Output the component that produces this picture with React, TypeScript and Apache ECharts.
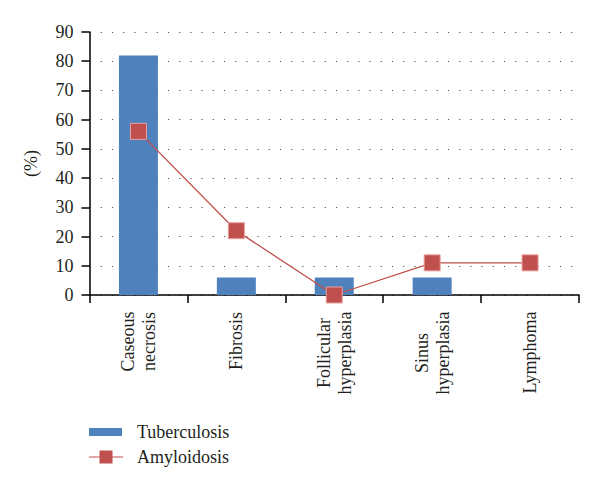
import React, { useEffect, useRef } from "react";
import * as echarts from "echarts";

const categories = [
  "Caseous\nnecrosis",
  "Fibrosis",
  "Follicular\nhyperplasia",
  "Sinus\nhyperplasia",
  "Lymphoma",
];
const tuberculosis = [82, 6, 6, 6, 0];
const amyloidosis = [56, 22, 0, 11, 11];
const yTicks = { min: 0, max: 90, interval: 10 };

const FONT = "'Liberation Serif', 'DejaVu Serif', serif";
const TEXT = "#231f20";
const FS = 18;

export default function App() {
  const ref = useRef<HTMLDivElement>(null);
  useEffect(() => {
    if (!ref.current) return;
    const cv = document.createElement("canvas");
    const ctx = cv.getContext("2d")!;
    ctx.font = `${FS}px ${FONT}`;
    const rich: Record<string, any> = {};
    categories.forEach((c, i) => {
      const w = Math.max(...c.split("\n").map((l) => ctx.measureText(l).width));
      rich["c" + i] = {
        width: Math.ceil(w) + 1,
        align: "center",
        fontFamily: FONT,
        fontSize: FS,
        lineHeight: 21,
        color: TEXT,
      };
    });
    const legendText = { fontFamily: FONT, fontSize: FS, color: TEXT };
    const chart = echarts.init(ref.current, undefined, { renderer: "svg" });
    chart.setOption({
      animation: false,
      backgroundColor: "#ffffff",
      textStyle: { fontFamily: FONT },
      grid: { left: 89.5, right: 21, top: 32, bottom: 194, containLabel: false },
      legend: {
        orient: "vertical",
        left: 89,
        top: 423,
        padding: 0,
        itemWidth: 43,
        itemHeight: 14,
        itemGap: 7,
        textStyle: legendText,
        data: [
          {
            name: "Tuberculosis",
            icon: "path://M0,0 M43,14 M0,3 L33,3 L33,11 L0,11 Z",
            itemStyle: { borderWidth: 0 },
            textStyle: legendText,
          },
          {
            name: "Amyloidosis",
            icon:
              "path://M0,0 M43,14 M0,6.4 L34,6.4 L34,7.6 L0,7.6 Z M10.5,0.5 L23.5,0.5 L23.5,13.5 L10.5,13.5 Z",
            itemStyle: { borderWidth: 0, color: "#c0504d" },
            textStyle: legendText,
          },
        ],
      },
      xAxis: {
        type: "category",
        data: categories,
        boundaryGap: true,
        axisLine: { show: true, lineStyle: { color: "#000", width: 1.5 } },
        axisTick: { show: true, alignWithLabel: false, length: 8, lineStyle: { color: "#000", width: 1.5 } },
        axisLabel: {
          rotate: 90,
          margin: 16,
          fontFamily: FONT,
          fontSize: FS,
          lineHeight: 21,
          color: TEXT,
          interval: 0,
          formatter: (v: string, i: number) =>
            v
              .split("\n")
              .map((l) => `{c${i}|${l}}`)
              .join("\n"),
          rich,
        },
        splitLine: { show: false },
      },
      yAxis: {
        type: "value",
        min: yTicks.min,
        max: yTicks.max,
        interval: yTicks.interval,
        name: "(%)",
        nameLocation: "middle",
        nameRotate: 90,
        nameGap: 50,
        nameTextStyle: { fontFamily: FONT, fontSize: FS, color: TEXT },
        axisLine: { show: true, lineStyle: { color: "#000", width: 1.5 } },
        axisTick: { show: true, inside: false, length: 8, lineStyle: { color: "#000", width: 1.5 } },
        axisLabel: { margin: 16, fontFamily: FONT, fontSize: FS, color: TEXT },
        splitLine: {
          show: true,
          lineStyle: { color: "#555", width: 1.2, type: [1.2, 10] },
        },
      },
      series: [
        {
          name: "Tuberculosis",
          type: "bar",
          data: tuberculosis,
          barWidth: 39,
          itemStyle: { color: "#4f81bd" },
        },
        {
          name: "Amyloidosis",
          type: "line",
          data: amyloidosis,
          symbol: "rect",
          symbolSize: 16,
          lineStyle: { color: "#c0504d", width: 1.3 },
          itemStyle: { color: "#c0504d", borderColor: "#e8a09e", borderWidth: 1 },
        },
      ],
    });
    return () => chart.dispose();
  }, []);
  return (
    <div
      ref={ref}
      style={{ position: "fixed", left: 0, top: 0, width: 600, height: 489 }}
    />
  );
}
